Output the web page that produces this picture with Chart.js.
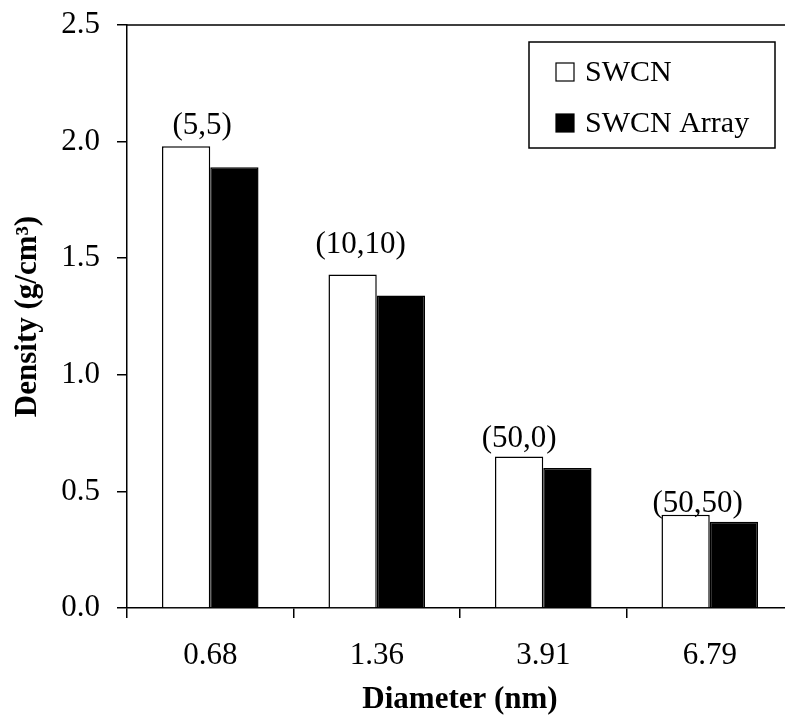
<!DOCTYPE html>
<html>
<head>
<meta charset="utf-8">
<script src="https://cdn.jsdelivr.net/npm/chart.js@4.4.7/dist/chart.umd.min.js"></script>
<style>
  html, body { margin: 0; padding: 0; background: #ffffff; overflow: hidden; }
  #wrap { width: 800px; height: 728px; position: relative; }
</style>
</head>
<body>
<div id="wrap"><canvas id="densityChart"></canvas></div>
<script>
const diameters = ["0.68", "1.36", "3.91", "6.79"];
const chirality = ["(5,5)", "(10,10)", "(50,0)", "(50,50)"];
const swcnDensity = [1.98, 1.43, 0.65, 0.40];
const arrayDensity = [1.89, 1.34, 0.60, 0.37];
const yTicks = [0, 0.5, 1.0, 1.5, 2.0, 2.5];

const serif = "'Liberation Serif', 'Times New Roman', serif";

// frame line on top/right of the plot area
const framePlugin = {
  id: "frame",
  afterDraw(chart) {
    const { ctx, chartArea } = chart;
    ctx.save();
    ctx.strokeStyle = "#000000";
    ctx.lineWidth = 1.5;
    ctx.beginPath();
    ctx.moveTo(chartArea.left, chartArea.top);
    ctx.lineTo(chartArea.right, chartArea.top);
    ctx.lineTo(chartArea.right, chartArea.bottom);
    ctx.stroke();
    ctx.restore();
  },
};

// chirality labels above the white bars
const labelPlugin = {
  id: "chiralityLabels",
  afterDatasetsDraw(chart) {
    const { ctx } = chart;
    const bars = chart.getDatasetMeta(0).data;
    const shift = [[16, 12], [8, 22], [0, 9], [12, 3]];
    ctx.save();
    ctx.fillStyle = "#000000";
    ctx.font = `31px ${serif}`;
    ctx.textAlign = "center";
    ctx.textBaseline = "alphabetic";
    bars.forEach((bar, index) => {
      ctx.fillText(chirality[index], bar.x + shift[index][0], bar.y - shift[index][1]);
    });
    ctx.restore();
  },
};

// boxed legend inside the plot, top right
const legendPlugin = {
  id: "boxLegend",
  afterDraw(chart) {
    const { ctx, chartArea } = chart;
    const boxRight = chartArea.right - 18;
    const boxLeft = boxRight - 246;
    const boxTop = chartArea.top + 17;
    const boxHeight = 106;
    ctx.save();
    ctx.fillStyle = "#ffffff";
    ctx.fillRect(boxLeft, boxTop, boxRight - boxLeft, boxHeight);
    ctx.strokeStyle = "#000000";
    ctx.lineWidth = 1.5;
    ctx.strokeRect(boxLeft, boxTop, boxRight - boxLeft, boxHeight);
    ctx.font = `30px ${serif}`;
    ctx.textBaseline = "alphabetic";
    ctx.textAlign = "left";
    chart.data.datasets.forEach((dataset, index) => {
      const baseline = boxTop + 39 + index * 51;
      const sx = boxLeft + 27;
      const sy = baseline - 18;
      ctx.fillStyle = dataset.backgroundColor;
      ctx.fillRect(sx, sy, 18, 18);
      ctx.strokeStyle = "#000000";
      ctx.lineWidth = 1.2;
      ctx.strokeRect(sx, sy, 18, 18);
      ctx.fillStyle = "#000000";
      ctx.fillText(dataset.label, boxLeft + 56, baseline);
    });
    ctx.restore();
  },
};

const chart = new Chart(document.querySelector("#densityChart"), {
  type: "bar",
  data: {
    labels: diameters,
    datasets: [
      {
        label: "SWCN",
        data: swcnDensity,
        backgroundColor: "#ffffff",
        borderColor: "#000000",
        borderWidth: 1.5,
        categoryPercentage: 0.58,
        barPercentage: 1.0,
      },
      {
        label: "SWCN Array",
        data: arrayDensity,
        backgroundColor: "#000000",
        borderColor: "#000000",
        borderWidth: 1.5,
        categoryPercentage: 0.58,
        barPercentage: 1.0,
      },
    ],
  },
  options: {
    responsive: true,
    maintainAspectRatio: false,
    animation: false,
    layout: {
      padding: { top: 25, right: 7, left: 0, bottom: 0 },
    },
    plugins: {
      legend: { display: false },
      tooltip: { enabled: false },
    },
    scales: {
      x: {
        afterFit(scale) {
          scale.height = 120;
          scale.paddingLeft = 0;
          scale.paddingRight = 0;
        },
        grid: {
          offset: true,
          drawOnChartArea: false,
          drawTicks: true,
          tickLength: 10,
          color: "#000000",
          lineWidth: 1.5,
        },
        border: { display: true, color: "#000000", width: 1.5 },
        ticks: {
          color: "#000000",
          font: { family: serif, size: 31 },
          padding: 19,
          maxRotation: 0,
        },
        title: {
          display: true,
          text: "Diameter (nm)",
          color: "#000000",
          font: { family: serif, size: 31, weight: "bold", lineHeight: 1.2 },
          padding: { top: 0, bottom: 9 },
        },
      },
      y: {
        min: 0,
        max: 2.5,
        afterFit(scale) {
          scale.width = 127;
          scale.paddingTop = 0;
          scale.paddingBottom = 0;
        },
        afterBuildTicks(scale) {
          scale.ticks = yTicks.map((value) => ({ value }));
        },
        grid: {
          drawOnChartArea: false,
          drawTicks: true,
          tickLength: 10,
          color: "#000000",
          lineWidth: 1.5,
        },
        border: { display: true, color: "#000000", width: 1.5 },
        ticks: {
          color: "#000000",
          font: { family: serif, size: 31 },
          padding: 17,
          callback: (value) => Number(value).toFixed(1),
        },
        title: {
          display: true,
          text: "Density (g/cm³)",
          color: "#000000",
          font: { family: serif, size: 31, weight: "bold", lineHeight: 1.2 },
          padding: { top: 9, bottom: 0 },
        },
      },
    },
  },
  plugins: [framePlugin, labelPlugin, legendPlugin],
});
</script>
</body>
</html>
